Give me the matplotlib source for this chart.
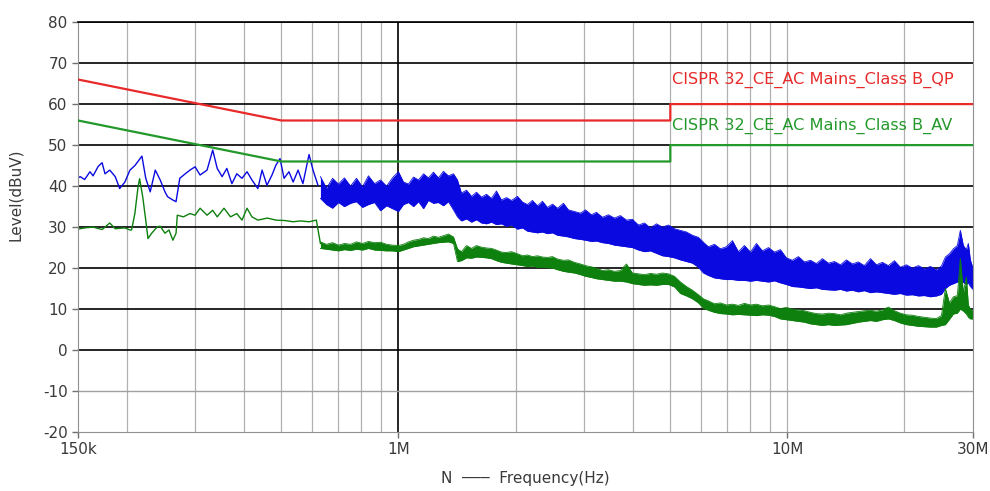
#!/usr/bin/env python3
# -*- coding: utf-8 -*-
"""
Conducted emission scan, line N, against CISPR 32 class B AC mains limits
output: out.png
"""

import numpy as np
import matplotlib
matplotlib.use('Agg')
import matplotlib.pyplot as plt

# limit lines (MHz, dBuV)
LIMIT_FREQ = [0.15, 0.5, 5.0, 5.0, 30.0]
LIMIT_QP = [66, 56, 56, 60, 60]
LIMIT_AV = [56, 46, 46, 50, 50]
LIMIT_QP_NAME = 'CISPR 32_CE_AC Mains_Class B_QP'
LIMIT_AV_NAME = 'CISPR 32_CE_AC Mains_Class B_AV'

# low band, sweep read as a single trace (kHz, dBuV)
PK_LOW_FREQ = [150, 152, 156, 161, 164, 169, 173, 176, 181, 187,
               192, 198, 204, 210, 219, 224, 230, 237, 244, 251,
               255, 263, 268, 274, 283, 291, 300, 309, 322, 333,
               342, 352, 362, 373, 384, 396, 408, 420, 435, 446,
               459, 473, 484, 496, 508, 523, 536, 552, 568, 589,
               603, 621]
PK_LOW_LEVEL = [42.0, 42.3, 41.6, 43.5, 42.5, 44.8, 45.7, 43.0, 43.9, 42.3,
                39.4, 41.0, 43.9, 45.0, 47.3, 41.9, 38.6, 43.9, 41.5, 38.6,
                37.4, 36.6, 36.2, 41.9, 43.0, 43.9, 44.7, 42.7, 43.9, 48.8,
                44.3, 42.3, 44.3, 40.6, 43.0, 41.9, 43.5, 41.5, 39.4, 43.9,
                40.2, 42.7, 45.1, 46.7, 41.9, 43.5, 41.0, 43.9, 40.6, 47.7,
                43.9, 40.2]

AV_LOW_FREQ = [150, 156, 164, 173, 181, 187, 198, 204, 206, 210,
               214, 216, 220, 224, 227, 232, 240, 244, 251, 257,
               263, 268, 270, 280, 291, 300, 309, 322, 333, 342,
               356, 370, 384, 396, 408, 420, 435, 460, 484, 510,
               536, 560, 589, 615, 630]
AV_LOW_LEVEL = [29.5, 29.8, 30.0, 29.4, 31.0, 29.6, 29.8, 29.3, 29.3, 33.3,
                39.8, 41.8, 37.4, 31.7, 27.2, 28.5, 30.1, 30.2, 28.5, 29.3,
                26.8, 28.5, 32.9, 32.5, 33.3, 32.9, 34.6, 32.9, 34.1, 32.5,
                34.6, 32.5, 33.3, 31.7, 34.6, 32.5, 31.7, 32.2, 31.7, 31.6,
                31.3, 31.5, 31.3, 31.7, 26.0]

# high band, dense sweep read as max / min of the band (MHz, dBuV)
HIGH_FREQ = [0.630, 0.653, 0.677, 0.701, 0.726, 0.753, 0.780, 0.808, 0.837, 0.868,
             0.899, 0.932, 0.965, 1.000, 1.030, 1.061, 1.093, 1.126, 1.160, 1.194,
             1.230, 1.267, 1.305, 1.344, 1.385, 1.418, 1.452, 1.496, 1.541, 1.587,
             1.635, 1.684, 1.734, 1.786, 1.840, 1.895, 1.952, 2.023, 2.084, 2.146,
             2.210, 2.277, 2.345, 2.415, 2.489, 2.563, 2.656, 2.735, 2.834, 2.937,
             3.025, 3.134, 3.228, 3.345, 3.466, 3.592, 3.721, 3.856, 3.995, 4.140,
             4.290, 4.444, 4.605, 4.772, 4.945, 5.124, 5.308, 5.501, 5.700, 5.904,
             6.083, 6.265, 6.492, 6.727, 6.970, 7.222, 7.482, 7.755, 8.035, 8.325,
             8.625, 8.939, 9.262, 9.594, 9.940, 10.30, 10.67, 11.06, 11.46, 11.87,
             12.30, 12.75, 13.21, 13.69, 14.18, 14.69, 15.22, 15.77, 16.35, 16.94,
             17.55, 18.18, 18.84, 19.52, 20.23, 20.96, 21.72, 22.50, 23.32, 24.16,
             24.89, 25.48, 26.10, 26.72, 27.35, 27.84, 28.34, 28.85, 29.19, 29.54,
             30.0]

PK_HIGH_MAX = [42.3, 39.5, 41.9, 40.5, 42.0, 40.0, 41.9, 39.8, 42.5, 40.6,
               41.5, 40.0, 42.0, 43.5, 41.0, 40.5, 42.2, 41.5, 43.0, 42.0,
               43.4, 42.0, 43.6, 42.5, 43.0, 41.5, 38.3, 39.0, 37.5, 38.5,
               37.3, 38.0, 37.0, 38.8, 36.6, 37.2, 36.5, 37.5, 36.1, 35.5,
               36.5, 35.2, 36.3, 34.8, 35.6, 34.6, 35.8, 34.2, 33.8, 33.4,
               34.2, 33.0, 33.6, 32.4, 33.0, 32.2, 32.8, 31.7, 31.9, 30.5,
               31.0, 29.8, 30.8, 30.0, 30.5, 29.6, 29.2, 28.8, 28.0, 27.5,
               26.3, 25.2, 25.8, 24.7, 25.2, 26.7, 24.0, 25.5, 23.9, 26.0,
               24.2, 25.0, 23.9, 24.5, 22.5, 21.9, 22.8, 21.5, 21.9, 21.1,
               22.3, 21.2, 21.6, 20.8, 22.0, 21.0, 21.5, 20.6, 22.3, 20.8,
               21.4, 20.6, 21.8, 20.2, 20.8, 20.0, 20.6, 19.8, 20.4, 19.6,
               20.5, 22.7, 23.5, 24.7, 25.5, 29.2, 25.5, 24.5, 26.0, 22.0,
               20.0]
PK_HIGH_MIN = [37.0, 35.5, 34.6, 36.0, 35.0, 35.8, 36.2, 34.8, 35.5, 36.0,
               34.0, 35.2, 34.5, 33.8, 35.5, 36.0, 35.0, 36.2, 34.5, 36.5,
               35.8, 36.0, 35.2, 36.2, 34.2, 32.5, 31.5, 32.0, 31.2, 31.8,
               31.0, 30.8, 31.2, 30.6, 30.8, 30.2, 30.5, 29.5, 29.8, 29.0,
               28.8, 28.6, 28.8, 28.4, 28.6, 28.0, 27.8, 27.6, 27.2, 27.0,
               26.8, 26.5, 26.6, 26.2, 26.0, 25.6, 25.4, 25.2, 25.0, 24.4,
               24.0, 24.2, 23.6, 23.0, 22.8, 22.5, 22.0, 21.6, 21.2, 20.2,
               18.8, 18.2, 17.6, 17.4, 17.2, 17.2, 17.0, 17.0, 16.8, 17.0,
               16.8, 16.6, 16.9, 16.4, 16.0, 15.5, 15.4, 15.2, 15.0, 15.2,
               14.8, 14.7, 14.6, 14.8, 14.4, 14.6, 14.2, 14.5, 14.0, 14.2,
               14.0, 13.8, 13.6, 13.8, 13.4, 13.5, 13.2, 13.3, 13.0, 13.2,
               13.6, 15.0, 15.8, 16.2, 16.6, 17.0, 16.5, 16.0, 16.4, 15.5,
               14.8]

AV_HIGH_MAX = [26.4, 25.8, 26.2, 25.6, 26.0, 25.8, 26.4, 26.0, 26.5, 26.2,
               26.3, 25.8, 25.6, 25.5, 25.8, 26.4, 26.8, 27.0, 27.4, 27.2,
               27.8, 27.5, 27.9, 28.3, 27.6, 24.7, 24.0, 25.5, 24.8, 25.5,
               25.1, 24.9, 24.8, 24.4, 23.9, 23.8, 24.0, 23.5, 23.0, 23.2,
               22.8, 23.0, 22.7, 22.6, 22.8, 22.2, 21.9, 22.0, 21.4, 21.0,
               20.6, 20.3, 20.0, 19.4, 19.6, 19.2, 19.4, 21.0, 18.8, 18.6,
               18.4, 18.7, 18.5, 18.8, 18.6, 18.0, 16.6, 15.5, 14.6, 13.5,
               12.5, 12.0, 11.3, 11.5, 11.0, 11.2, 10.9, 11.4, 11.0, 11.2,
               10.8, 11.0, 10.6, 10.1, 10.4, 10.0, 9.8, 9.6, 9.2, 8.9,
               8.8, 9.0, 8.9, 8.6, 9.0, 9.2, 9.4, 9.6, 9.7, 9.5,
               9.8, 10.5, 9.6, 9.0, 8.6, 8.5, 8.2, 8.0, 7.8, 7.7,
               8.4, 15.0, 11.5, 13.0, 13.3, 22.3, 14.0, 17.8, 11.0, 10.0,
               9.5]
AV_HIGH_MIN = [24.8, 24.6, 24.4, 24.2, 24.5, 24.3, 24.6, 24.4, 24.8, 24.4,
               24.3, 24.2, 24.2, 24.0, 24.4, 24.8, 25.2, 25.4, 25.6, 25.8,
               26.0, 26.2, 26.3, 26.4, 26.0, 21.6, 21.8, 22.5, 22.4, 22.7,
               22.6, 22.5, 22.3, 21.8, 21.4, 21.2, 21.0, 20.8, 20.6, 20.4,
               20.5, 20.2, 20.2, 20.1, 20.0, 19.6, 19.2, 19.0, 18.8, 18.4,
               18.0, 17.7, 17.4, 17.2, 17.0, 16.8, 16.8, 16.6, 16.2, 16.0,
               15.8, 15.9, 15.8, 16.0, 16.0, 15.4, 13.8, 13.2, 12.5, 11.5,
               10.2, 9.7, 9.2, 8.9, 8.8, 8.6, 8.7, 8.6, 8.5, 8.4,
               8.6, 8.5, 8.2, 7.6, 7.4, 7.2, 7.0, 6.8, 6.4, 6.2,
               6.0, 6.2, 6.0, 6.1, 6.2, 6.5, 6.8, 7.0, 7.2, 7.0,
               7.4, 7.6, 7.2, 6.6, 6.2, 6.0, 5.8, 5.7, 5.6, 5.6,
               6.0, 6.2, 7.5, 8.8, 9.0, 10.0, 9.5, 8.8, 8.0, 7.6,
               7.6]

X_TICKS = [0.15, 1, 10, 30]
X_TICK_LABELS = ['150k', '1M', '10M', '30M']
X_GRID = [0.2, 0.3, 0.4, 0.5, 0.6, 0.7, 0.8, 0.9,
          2, 3, 4, 5, 6, 7, 8, 9, 10, 20]
Y_TICKS = list(range(-20, 81, 10))

PK_COLOR = '#0a0ae0'
AV_COLOR = '#0e800e'
QP_LIMIT_COLOR = '#e82a2a'
AV_LIMIT_COLOR = '#22992a'
TEXT_COLOR = '#3a3a3a'


def draw_chart():
    """
    draw the scan and the limit lines, save to out.png
    :return:
    """
    plt.rcParams['font.family'] = ['DejaVu Sans']
    plt.rcParams['axes.unicode_minus'] = False
    fig = plt.figure(figsize=(9.9, 4.91), dpi=100)
    ax = fig.add_axes([0.0788, 0.12, 0.904, 0.835])
    ax.set_xscale('log')
    ax.set_xlim(0.15, 30)
    ax.set_ylim(-20, 80)

    # grid
    for f in X_GRID:
        ax.axvline(f, color='#b0b0b0', lw=0.9, zorder=1)
    ax.axvline(1, color='black', lw=1.2, zorder=1)
    for lv in Y_TICKS[2:]:
        ax.axhline(lv, color='black', lw=1.2, zorder=1)
    ax.axhline(-10, color='#a0a0a0', lw=1.0, zorder=1)

    # peak trace
    ax.plot(np.array(PK_LOW_FREQ) / 1000.0, PK_LOW_LEVEL, color=PK_COLOR, lw=1.0, zorder=2)
    ax.fill_between(HIGH_FREQ, PK_HIGH_MIN, PK_HIGH_MAX, color=PK_COLOR, lw=0, zorder=2)
    ax.plot(HIGH_FREQ, PK_HIGH_MAX, color=PK_COLOR, lw=0.6, zorder=2)
    ax.plot(HIGH_FREQ, PK_HIGH_MIN, color=PK_COLOR, lw=0.6, zorder=2)

    # average trace
    ax.plot(np.array(AV_LOW_FREQ) / 1000.0, AV_LOW_LEVEL, color=AV_COLOR, lw=1.0, zorder=2)
    ax.fill_between(HIGH_FREQ, AV_HIGH_MIN, AV_HIGH_MAX, color=AV_COLOR, lw=0, zorder=2)
    ax.plot(HIGH_FREQ, AV_HIGH_MAX, color=AV_COLOR, lw=0.6, zorder=2)
    ax.plot(HIGH_FREQ, AV_HIGH_MIN, color=AV_COLOR, lw=0.6, zorder=2)

    # limits
    ax.plot(LIMIT_FREQ, LIMIT_QP, color=QP_LIMIT_COLOR, lw=1.6, zorder=3)
    ax.plot(LIMIT_FREQ, LIMIT_AV, color=AV_LIMIT_COLOR, lw=1.6, zorder=3)
    ax.text(5.05, 65.8, LIMIT_QP_NAME, color=QP_LIMIT_COLOR, fontsize=11.6,
            ha='left', va='center', zorder=4)
    ax.text(5.05, 54.8, LIMIT_AV_NAME, color=AV_LIMIT_COLOR, fontsize=11.6,
            ha='left', va='center', zorder=4)

    # axes
    ax.set_xticks(X_TICKS)
    ax.set_xticklabels(X_TICK_LABELS)
    ax.xaxis.set_minor_locator(matplotlib.ticker.NullLocator())
    ax.set_yticks(Y_TICKS)
    ax.tick_params(axis='both', colors='#707070', labelcolor=TEXT_COLOR,
                   labelsize=11, length=4, width=1)
    for side in ['left', 'bottom', 'right']:
        ax.spines[side].set_color('#909090')
    ax.spines['top'].set_color('black')
    ax.spines['top'].set_linewidth(1.2)

    ax.set_ylabel('Level(dBuV)', color=TEXT_COLOR, fontsize=11)
    ax.yaxis.set_label_coords(-0.062, 0.58)
    ax.set_xlabel('N  \u2500\u2500\u2500  Frequency(Hz)', color=TEXT_COLOR, fontsize=11, labelpad=10)

    fig.savefig('out.png', dpi=100)
    plt.close(fig)


if __name__ == '__main__':
    draw_chart()
